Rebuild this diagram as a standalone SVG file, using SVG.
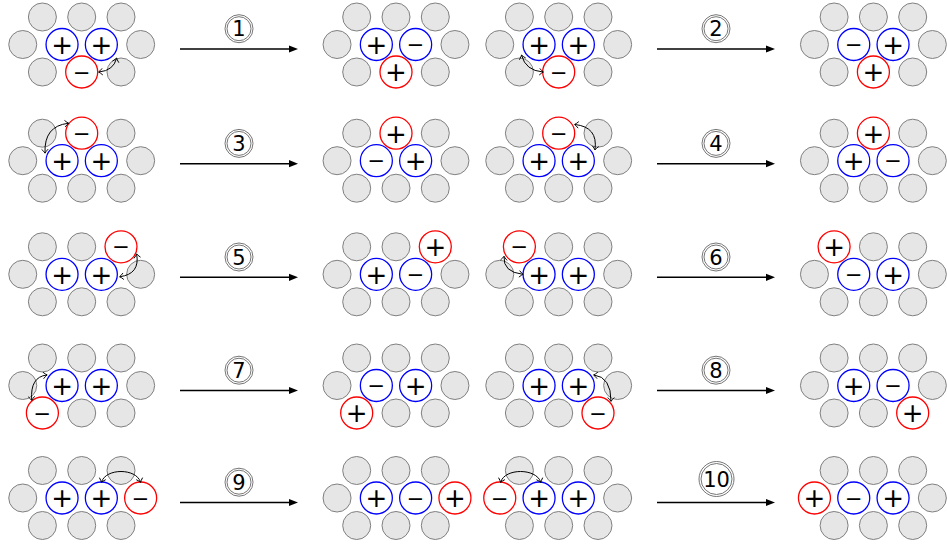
<svg xmlns="http://www.w3.org/2000/svg" width="947" height="547" viewBox="0 0 947 547">
<style>
.g{fill:#e6e6e6;stroke:#808080;stroke-width:1}
.b{fill:#fff;stroke:#0000ff;stroke-width:1.3}
.r{fill:#fff;stroke:#ff0000;stroke-width:1.3}
.p{font-family:"DejaVu Sans",sans-serif;font-size:26px;text-anchor:middle;fill:#000}
.m{font-family:"DejaVu Sans",sans-serif;font-size:21px;text-anchor:middle;fill:#000}
.arr{fill:none;stroke:#000;stroke-width:1.6;marker-end:url(#head)}
.sw{fill:none;stroke:#000;stroke-width:1;marker-start:url(#tip);marker-end:url(#tip)}
.lo{fill:none;stroke:#666;stroke-width:0.9}
.lt{font-family:"DejaVu Sans",sans-serif;font-size:21px;text-anchor:middle;fill:#000}
</style>
<defs>
<marker id="head" markerUnits="userSpaceOnUse" orient="auto" overflow="visible" refX="0" refY="0" markerWidth="12" markerHeight="10"><path d="M -3 -3.6 L 6 0 L -3 3.6 z" fill="#000"/></marker>
<marker id="tip" markerUnits="userSpaceOnUse" orient="auto-start-reverse" overflow="visible" refX="0" refY="0" markerWidth="8" markerHeight="8"><path d="M -3.5 -3.3 Q -1 -0.7 0.5 0 Q -1 0.7 -3.5 3.3" fill="none" stroke="#000" stroke-width="0.9"/></marker>
</defs>

<!-- Row 1 -->
<g id="r1c1">
<circle class="g" cx="42.4" cy="17" r="14"/><circle class="g" cx="81.7" cy="17" r="14"/><circle class="g" cx="121" cy="17" r="14"/>
<circle class="g" cx="22.75" cy="44.5" r="14"/><circle class="b" cx="62.05" cy="44.5" r="16"/><circle class="b" cx="101.35" cy="44.5" r="16"/><circle class="g" cx="140.65" cy="44.5" r="14"/>
<circle class="g" cx="42.4" cy="72" r="14"/><circle class="r" cx="81.7" cy="72" r="16"/><circle class="g" cx="121" cy="72" r="14"/>
<text class="p" x="62.05" y="53.9">+</text><text class="p" x="101.35" y="53.9">+</text><text class="m" x="81.7" y="79.6">−</text>
</g>
<g id="r1c2">
<circle class="g" cx="356.7" cy="17" r="14"/><circle class="g" cx="396" cy="17" r="14"/><circle class="g" cx="435.3" cy="17" r="14"/>
<circle class="g" cx="337.05" cy="44.5" r="14"/><circle class="b" cx="376.35" cy="44.5" r="16"/><circle class="b" cx="415.65" cy="44.5" r="16"/><circle class="g" cx="454.95" cy="44.5" r="14"/>
<circle class="g" cx="356.7" cy="72" r="14"/><circle class="r" cx="396" cy="72" r="16"/><circle class="g" cx="435.3" cy="72" r="14"/>
<text class="p" x="376.35" y="53.9">+</text><text class="m" x="415.65" y="52.1">−</text><text class="p" x="396" y="81.4">+</text>
</g>
<g id="r1c3">
<circle class="g" cx="519.4" cy="17" r="14"/><circle class="g" cx="558.7" cy="17" r="14"/><circle class="g" cx="598" cy="17" r="14"/>
<circle class="g" cx="499.75" cy="44.5" r="14"/><circle class="b" cx="539.05" cy="44.5" r="16"/><circle class="b" cx="578.35" cy="44.5" r="16"/><circle class="g" cx="617.65" cy="44.5" r="14"/>
<circle class="g" cx="519.4" cy="72" r="14"/><circle class="r" cx="558.7" cy="72" r="16"/><circle class="g" cx="598" cy="72" r="14"/>
<text class="p" x="539.05" y="53.9">+</text><text class="p" x="578.35" y="53.9">+</text><text class="m" x="558.7" y="79.6">−</text>
</g>
<g id="r1c4">
<circle class="g" cx="834.1" cy="17" r="14"/><circle class="g" cx="873.4" cy="17" r="14"/><circle class="g" cx="912.7" cy="17" r="14"/>
<circle class="g" cx="814.45" cy="44.5" r="14"/><circle class="b" cx="853.75" cy="44.5" r="16"/><circle class="b" cx="893.05" cy="44.5" r="16"/><circle class="g" cx="932.35" cy="44.5" r="14"/>
<circle class="g" cx="834.1" cy="72" r="14"/><circle class="r" cx="873.4" cy="72" r="16"/><circle class="g" cx="912.7" cy="72" r="14"/>
<text class="m" x="853.75" y="52.1">−</text><text class="p" x="893.05" y="53.9">+</text><text class="p" x="873.4" y="81.4">+</text>
</g>

<!-- Row 2 -->
<g id="r2c1">
<circle class="g" cx="42.4" cy="133.2" r="14"/><circle class="r" cx="81.7" cy="133.2" r="16"/><circle class="g" cx="121" cy="133.2" r="14"/>
<circle class="g" cx="22.75" cy="160.7" r="14"/><circle class="b" cx="62.05" cy="160.7" r="16"/><circle class="b" cx="101.35" cy="160.7" r="16"/><circle class="g" cx="140.65" cy="160.7" r="14"/>
<circle class="g" cx="42.4" cy="188.2" r="14"/><circle class="g" cx="81.7" cy="188.2" r="14"/><circle class="g" cx="121" cy="188.2" r="14"/>
<text class="m" x="81.7" y="140.8">−</text><text class="p" x="62.05" y="170.1">+</text><text class="p" x="101.35" y="170.1">+</text>
</g>
<g id="r2c2">
<circle class="g" cx="356.7" cy="133.2" r="14"/><circle class="r" cx="396" cy="133.2" r="16"/><circle class="g" cx="435.3" cy="133.2" r="14"/>
<circle class="g" cx="337.05" cy="160.7" r="14"/><circle class="b" cx="376.35" cy="160.7" r="16"/><circle class="b" cx="415.65" cy="160.7" r="16"/><circle class="g" cx="454.95" cy="160.7" r="14"/>
<circle class="g" cx="356.7" cy="188.2" r="14"/><circle class="g" cx="396" cy="188.2" r="14"/><circle class="g" cx="435.3" cy="188.2" r="14"/>
<text class="p" x="396" y="142.6">+</text><text class="m" x="376.35" y="168.3">−</text><text class="p" x="415.65" y="170.1">+</text>
</g>
<g id="r2c3">
<circle class="g" cx="519.4" cy="133.2" r="14"/><circle class="r" cx="558.7" cy="133.2" r="16"/><circle class="g" cx="598" cy="133.2" r="14"/>
<circle class="g" cx="499.75" cy="160.7" r="14"/><circle class="b" cx="539.05" cy="160.7" r="16"/><circle class="b" cx="578.35" cy="160.7" r="16"/><circle class="g" cx="617.65" cy="160.7" r="14"/>
<circle class="g" cx="519.4" cy="188.2" r="14"/><circle class="g" cx="558.7" cy="188.2" r="14"/><circle class="g" cx="598" cy="188.2" r="14"/>
<text class="m" x="558.7" y="140.8">−</text><text class="p" x="539.05" y="170.1">+</text><text class="p" x="578.35" y="170.1">+</text>
</g>
<g id="r2c4">
<circle class="g" cx="834.1" cy="133.2" r="14"/><circle class="r" cx="873.4" cy="133.2" r="16"/><circle class="g" cx="912.7" cy="133.2" r="14"/>
<circle class="g" cx="814.45" cy="160.7" r="14"/><circle class="b" cx="853.75" cy="160.7" r="16"/><circle class="b" cx="893.05" cy="160.7" r="16"/><circle class="g" cx="932.35" cy="160.7" r="14"/>
<circle class="g" cx="834.1" cy="188.2" r="14"/><circle class="g" cx="873.4" cy="188.2" r="14"/><circle class="g" cx="912.7" cy="188.2" r="14"/>
<text class="p" x="873.4" y="142.6">+</text><text class="p" x="853.75" y="170.1">+</text><text class="m" x="893.05" y="168.3">−</text>
</g>

<!-- Row 3 -->
<g id="r3c1">
<circle class="g" cx="42.4" cy="246.8" r="14"/><circle class="g" cx="81.7" cy="246.8" r="14"/><circle class="r" cx="121" cy="246.8" r="16"/>
<circle class="g" cx="22.75" cy="274.3" r="14"/><circle class="b" cx="62.05" cy="274.3" r="16"/><circle class="b" cx="101.35" cy="274.3" r="16"/><circle class="g" cx="140.65" cy="274.3" r="14"/>
<circle class="g" cx="42.4" cy="301.8" r="14"/><circle class="g" cx="81.7" cy="301.8" r="14"/><circle class="g" cx="121" cy="301.8" r="14"/>
<text class="m" x="121" y="254.4">−</text><text class="p" x="62.05" y="283.7">+</text><text class="p" x="101.35" y="283.7">+</text>
</g>
<g id="r3c2">
<circle class="g" cx="356.7" cy="246.8" r="14"/><circle class="g" cx="396" cy="246.8" r="14"/><circle class="r" cx="435.3" cy="246.8" r="16"/>
<circle class="g" cx="337.05" cy="274.3" r="14"/><circle class="b" cx="376.35" cy="274.3" r="16"/><circle class="b" cx="415.65" cy="274.3" r="16"/><circle class="g" cx="454.95" cy="274.3" r="14"/>
<circle class="g" cx="356.7" cy="301.8" r="14"/><circle class="g" cx="396" cy="301.8" r="14"/><circle class="g" cx="435.3" cy="301.8" r="14"/>
<text class="p" x="435.3" y="256.2">+</text><text class="p" x="376.35" y="283.7">+</text><text class="m" x="415.65" y="281.9">−</text>
</g>
<g id="r3c3">
<circle class="r" cx="519.4" cy="246.8" r="16"/><circle class="g" cx="558.7" cy="246.8" r="14"/><circle class="g" cx="598" cy="246.8" r="14"/>
<circle class="g" cx="499.75" cy="274.3" r="14"/><circle class="b" cx="539.05" cy="274.3" r="16"/><circle class="b" cx="578.35" cy="274.3" r="16"/><circle class="g" cx="617.65" cy="274.3" r="14"/>
<circle class="g" cx="519.4" cy="301.8" r="14"/><circle class="g" cx="558.7" cy="301.8" r="14"/><circle class="g" cx="598" cy="301.8" r="14"/>
<text class="m" x="519.4" y="254.4">−</text><text class="p" x="539.05" y="283.7">+</text><text class="p" x="578.35" y="283.7">+</text>
</g>
<g id="r3c4">
<circle class="r" cx="834.1" cy="246.8" r="16"/><circle class="g" cx="873.4" cy="246.8" r="14"/><circle class="g" cx="912.7" cy="246.8" r="14"/>
<circle class="g" cx="814.45" cy="274.3" r="14"/><circle class="b" cx="853.75" cy="274.3" r="16"/><circle class="b" cx="893.05" cy="274.3" r="16"/><circle class="g" cx="932.35" cy="274.3" r="14"/>
<circle class="g" cx="834.1" cy="301.8" r="14"/><circle class="g" cx="873.4" cy="301.8" r="14"/><circle class="g" cx="912.7" cy="301.8" r="14"/>
<text class="p" x="834.1" y="256.2">+</text><text class="m" x="853.75" y="281.9">−</text><text class="p" x="893.05" y="283.7">+</text>
</g>

<!-- Row 4 -->
<g id="r4c1">
<circle class="g" cx="42.4" cy="358" r="14"/><circle class="g" cx="81.7" cy="358" r="14"/><circle class="g" cx="121" cy="358" r="14"/>
<circle class="g" cx="22.75" cy="385.5" r="14"/><circle class="b" cx="62.05" cy="385.5" r="16"/><circle class="b" cx="101.35" cy="385.5" r="16"/><circle class="g" cx="140.65" cy="385.5" r="14"/>
<circle class="r" cx="42.4" cy="413" r="16"/><circle class="g" cx="81.7" cy="413" r="14"/><circle class="g" cx="121" cy="413" r="14"/>
<text class="p" x="62.05" y="394.9">+</text><text class="p" x="101.35" y="394.9">+</text><text class="m" x="42.4" y="420.6">−</text>
</g>
<g id="r4c2">
<circle class="g" cx="356.7" cy="358" r="14"/><circle class="g" cx="396" cy="358" r="14"/><circle class="g" cx="435.3" cy="358" r="14"/>
<circle class="g" cx="337.05" cy="385.5" r="14"/><circle class="b" cx="376.35" cy="385.5" r="16"/><circle class="b" cx="415.65" cy="385.5" r="16"/><circle class="g" cx="454.95" cy="385.5" r="14"/>
<circle class="r" cx="356.7" cy="413" r="16"/><circle class="g" cx="396" cy="413" r="14"/><circle class="g" cx="435.3" cy="413" r="14"/>
<text class="m" x="376.35" y="393.1">−</text><text class="p" x="415.65" y="394.9">+</text><text class="p" x="356.7" y="422.4">+</text>
</g>
<g id="r4c3">
<circle class="g" cx="519.4" cy="358" r="14"/><circle class="g" cx="558.7" cy="358" r="14"/><circle class="g" cx="598" cy="358" r="14"/>
<circle class="g" cx="499.75" cy="385.5" r="14"/><circle class="b" cx="539.05" cy="385.5" r="16"/><circle class="b" cx="578.35" cy="385.5" r="16"/><circle class="g" cx="617.65" cy="385.5" r="14"/>
<circle class="g" cx="519.4" cy="413" r="14"/><circle class="g" cx="558.7" cy="413" r="14"/><circle class="r" cx="598" cy="413" r="16"/>
<text class="p" x="539.05" y="394.9">+</text><text class="p" x="578.35" y="394.9">+</text><text class="m" x="598" y="420.6">−</text>
</g>
<g id="r4c4">
<circle class="g" cx="834.1" cy="358" r="14"/><circle class="g" cx="873.4" cy="358" r="14"/><circle class="g" cx="912.7" cy="358" r="14"/>
<circle class="g" cx="814.45" cy="385.5" r="14"/><circle class="b" cx="853.75" cy="385.5" r="16"/><circle class="b" cx="893.05" cy="385.5" r="16"/><circle class="g" cx="932.35" cy="385.5" r="14"/>
<circle class="g" cx="834.1" cy="413" r="14"/><circle class="g" cx="873.4" cy="413" r="14"/><circle class="r" cx="912.7" cy="413" r="16"/>
<text class="p" x="853.75" y="394.9">+</text><text class="m" x="893.05" y="393.1">−</text><text class="p" x="912.7" y="422.4">+</text>
</g>

<!-- Row 5 -->
<g id="r5c1">
<circle class="g" cx="42.4" cy="470.5" r="14"/><circle class="g" cx="81.7" cy="470.5" r="14"/><circle class="g" cx="121" cy="470.5" r="14"/>
<circle class="g" cx="22.75" cy="498" r="14"/><circle class="b" cx="62.05" cy="498" r="16"/><circle class="b" cx="101.35" cy="498" r="16"/><circle class="r" cx="140.65" cy="498" r="16"/>
<circle class="g" cx="42.4" cy="525.5" r="14"/><circle class="g" cx="81.7" cy="525.5" r="14"/><circle class="g" cx="121" cy="525.5" r="14"/>
<text class="p" x="62.05" y="507.4">+</text><text class="p" x="101.35" y="507.4">+</text><text class="m" x="140.65" y="505.6">−</text>
</g>
<g id="r5c2">
<circle class="g" cx="356.7" cy="470.5" r="14"/><circle class="g" cx="396" cy="470.5" r="14"/><circle class="g" cx="435.3" cy="470.5" r="14"/>
<circle class="g" cx="337.05" cy="498" r="14"/><circle class="b" cx="376.35" cy="498" r="16"/><circle class="b" cx="415.65" cy="498" r="16"/><circle class="r" cx="454.95" cy="498" r="16"/>
<circle class="g" cx="356.7" cy="525.5" r="14"/><circle class="g" cx="396" cy="525.5" r="14"/><circle class="g" cx="435.3" cy="525.5" r="14"/>
<text class="p" x="376.35" y="507.4">+</text><text class="m" x="415.65" y="505.6">−</text><text class="p" x="454.95" y="507.4">+</text>
</g>
<g id="r5c3">
<circle class="g" cx="519.4" cy="470.5" r="14"/><circle class="g" cx="558.7" cy="470.5" r="14"/><circle class="g" cx="598" cy="470.5" r="14"/>
<circle class="r" cx="499.75" cy="498" r="16"/><circle class="b" cx="539.05" cy="498" r="16"/><circle class="b" cx="578.35" cy="498" r="16"/><circle class="g" cx="617.65" cy="498" r="14"/>
<circle class="g" cx="519.4" cy="525.5" r="14"/><circle class="g" cx="558.7" cy="525.5" r="14"/><circle class="g" cx="598" cy="525.5" r="14"/>
<text class="m" x="499.75" y="505.6">−</text><text class="p" x="539.05" y="507.4">+</text><text class="p" x="578.35" y="507.4">+</text>
</g>
<g id="r5c4">
<circle class="g" cx="834.1" cy="470.5" r="14"/><circle class="g" cx="873.4" cy="470.5" r="14"/><circle class="g" cx="912.7" cy="470.5" r="14"/>
<circle class="r" cx="814.45" cy="498" r="16"/><circle class="b" cx="853.75" cy="498" r="16"/><circle class="b" cx="893.05" cy="498" r="16"/><circle class="g" cx="932.35" cy="498" r="14"/>
<circle class="g" cx="834.1" cy="525.5" r="14"/><circle class="g" cx="873.4" cy="525.5" r="14"/><circle class="g" cx="912.7" cy="525.5" r="14"/>
<text class="p" x="814.45" y="507.4">+</text><text class="m" x="853.75" y="505.6">−</text><text class="p" x="893.05" y="507.4">+</text>
</g>

<!-- step labels -->
<g id="label1"><circle class="lo" cx="239" cy="28.7" r="14"/><circle class="lo" cx="239" cy="28.7" r="12"/><text class="lt" x="239" y="36.3">1</text></g>
<g id="label2"><circle class="lo" cx="716" cy="28.7" r="14"/><circle class="lo" cx="716" cy="28.7" r="12"/><text class="lt" x="716" y="36.3">2</text></g>
<g id="label3"><circle class="lo" cx="239" cy="143.4" r="14"/><circle class="lo" cx="239" cy="143.4" r="12"/><text class="lt" x="239" y="151">3</text></g>
<g id="label4"><circle class="lo" cx="716" cy="143.4" r="14"/><circle class="lo" cx="716" cy="143.4" r="12"/><text class="lt" x="716" y="151">4</text></g>
<g id="label5"><circle class="lo" cx="239" cy="257" r="14"/><circle class="lo" cx="239" cy="257" r="12"/><text class="lt" x="239" y="264.6">5</text></g>
<g id="label6"><circle class="lo" cx="716" cy="257" r="14"/><circle class="lo" cx="716" cy="257" r="12"/><text class="lt" x="716" y="264.6">6</text></g>
<g id="label7"><circle class="lo" cx="239" cy="370.2" r="14"/><circle class="lo" cx="239" cy="370.2" r="12"/><text class="lt" x="239" y="377.8">7</text></g>
<g id="label8"><circle class="lo" cx="716" cy="370.2" r="14"/><circle class="lo" cx="716" cy="370.2" r="12"/><text class="lt" x="716" y="377.8">8</text></g>
<g id="label9"><circle class="lo" cx="239" cy="482.2" r="14"/><circle class="lo" cx="239" cy="482.2" r="12"/><text class="lt" x="239" y="489.8">9</text></g>
<g id="label10"><circle class="lo" cx="716.5" cy="479" r="17.5"/><circle class="lo" cx="716.5" cy="479" r="15.5"/><text class="lt" x="716.5" y="486.6">10</text></g>

<!-- connectors -->
<g id="connectors">
<path class="arr" d="M 180 49 L 292 49"/>
<path class="arr" d="M 657 49 L 769 49"/>
<path class="arr" d="M 180 163.7 L 292 163.7"/>
<path class="arr" d="M 657 163.7 L 769 163.7"/>
<path class="arr" d="M 180 277.3 L 292 277.3"/>
<path class="arr" d="M 657 277.3 L 769 277.3"/>
<path class="arr" d="M 180 390.5 L 292 390.5"/>
<path class="arr" d="M 657 390.5 L 769 390.5"/>
<path class="arr" d="M 180 502.5 L 292 502.5"/>
<path class="arr" d="M 657 502.5 L 769 502.5"/>
<path class="sw" d="M 116.5 58.5 Q 113.5 70.5 99 72"/>
<path class="sw" d="M 521.7 55.5 Q 525.5 70.5 543 72"/>
<path class="sw" d="M 45 152.7 Q 44 126 68.3 123.3"/>
<path class="sw" d="M 575 124.5 Q 598 127 595 149.5"/>
<path class="sw" d="M 136.7 254.3 Q 140 274 120 276.7"/>
<path class="sw" d="M 504 256.7 Q 503 272 522.7 274.3"/>
<path class="sw" d="M 46.7 375 Q 30 377 31.7 400"/>
<path class="sw" d="M 594 375 Q 611 377 611 401"/>
<path class="sw" d="M 101.5 482 C 106 468 136 468 140.5 482"/>
<path class="sw" d="M 500.7 482 C 505 468 536 468 540.7 482"/>
</g>
</svg>
